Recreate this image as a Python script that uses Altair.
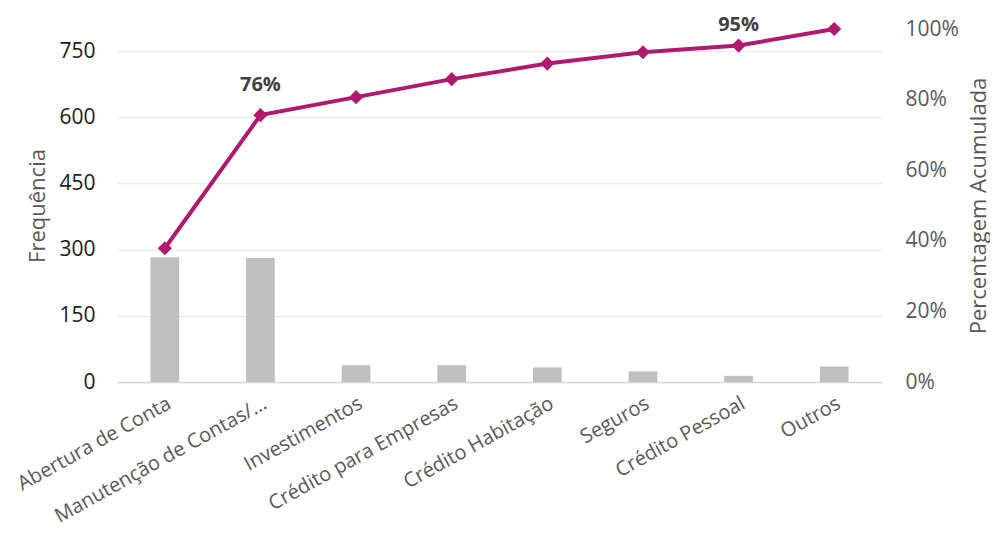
import altair as alt
import pandas as pd

categories = ["Abertura de Conta", "Manutenção de Contas/...", "Investimentos",
              "Crédito para Empresas", "Crédito Habitação", "Seguros",
              "Crédito Pessoal", "Outros"]
frequencia = [283, 281, 38, 38, 33, 24, 14, 35]
perc_acumulada = [0.379, 0.756, 0.807, 0.858, 0.902, 0.934, 0.953, 1.0]
rotulos = ["", "76%", "", "", "", "", "95%", ""]

df = pd.DataFrame({"cat": categories, "freq": frequencia,
                   "cum": perc_acumulada, "lab": rotulos})

FONT = "Open Sans"
LINE_C = "#B01A6E"

x = alt.X("cat:N", sort=None, title=None,
          scale=alt.Scale(paddingInner=0.7, paddingOuter=0.35),
          axis=alt.Axis(labelAngle=-29, labelFontSize=20, labelColor="#595959",
                        labelFont=FONT, ticks=False, tickSize=0, labelPadding=11,
                        domainColor="#D9D9D9", domainWidth=1.5, labelLimit=400))

bars = alt.Chart(df).mark_bar(color="#BFBFBF").encode(
    x=x,
    y=alt.Y("freq:Q", title="Frequência",
            scale=alt.Scale(domain=[0, 800], nice=False),
            axis=alt.Axis(values=[0, 150, 300, 450, 600, 750], grid=True,
                          gridColor="#EBEBEB", gridWidth=1.5, domain=False,
                          ticks=False, tickSize=0, labelPadding=22,
                          labelFontSize=21, labelColor="#1A1A1A", labelFont=FONT,
                          titleFont=FONT, titleFontSize=22, titleColor="#595959",
                          titleFontWeight="normal", titleX=-80, titleY=176.5,
                          titleAlign="center", titleBaseline="middle"))
)

ycum = alt.Y("cum:Q", title="Percentagem Acumulada",
             scale=alt.Scale(domain=[0, 1], nice=False),
             axis=alt.Axis(orient="right", values=[0, 0.2, 0.4, 0.6, 0.8, 1.0],
                           format=".0%", grid=False, domain=False, ticks=False,
                           tickSize=0, labelPadding=23, labelFontSize=21,
                           labelColor="#595959", labelFont=FONT,
                           titleFont=FONT, titleFontSize=22, titleColor="#595959",
                           titleFontWeight="normal", titleAngle=270,
                           titleX=96, titleY=176.5, titleAlign="center",
                           titleBaseline="middle"))

base = alt.Chart(df).encode(x=alt.X("cat:N", sort=None), y=ycum)
line = base.mark_line(color=LINE_C, strokeWidth=4)
pts = base.mark_point(shape="diamond", filled=True, size=200, color=LINE_C, opacity=1)
txt_a = base.transform_filter(alt.datum.lab == "76%").mark_text(
    dy=-30, fontSize=20, fontWeight="bold", color="#404040", font=FONT
).encode(text="lab:N")
txt_b = base.transform_filter(alt.datum.lab == "95%").mark_text(
    dy=-21, fontSize=20, fontWeight="bold", color="#404040", font=FONT
).encode(text="lab:N")

chart = alt.layer(bars, alt.layer(line, pts, txt_a, txt_b)).resolve_scale(
    y="independent"
).properties(
    width=765, height=353,
    autosize=alt.AutoSizeParams(type="none"),
    padding={"left": 109, "top": 21, "right": 108, "bottom": 154},
).configure_view(stroke=None)

chart.save("out.html", embed_options={"renderer": "svg", "actions": False})
